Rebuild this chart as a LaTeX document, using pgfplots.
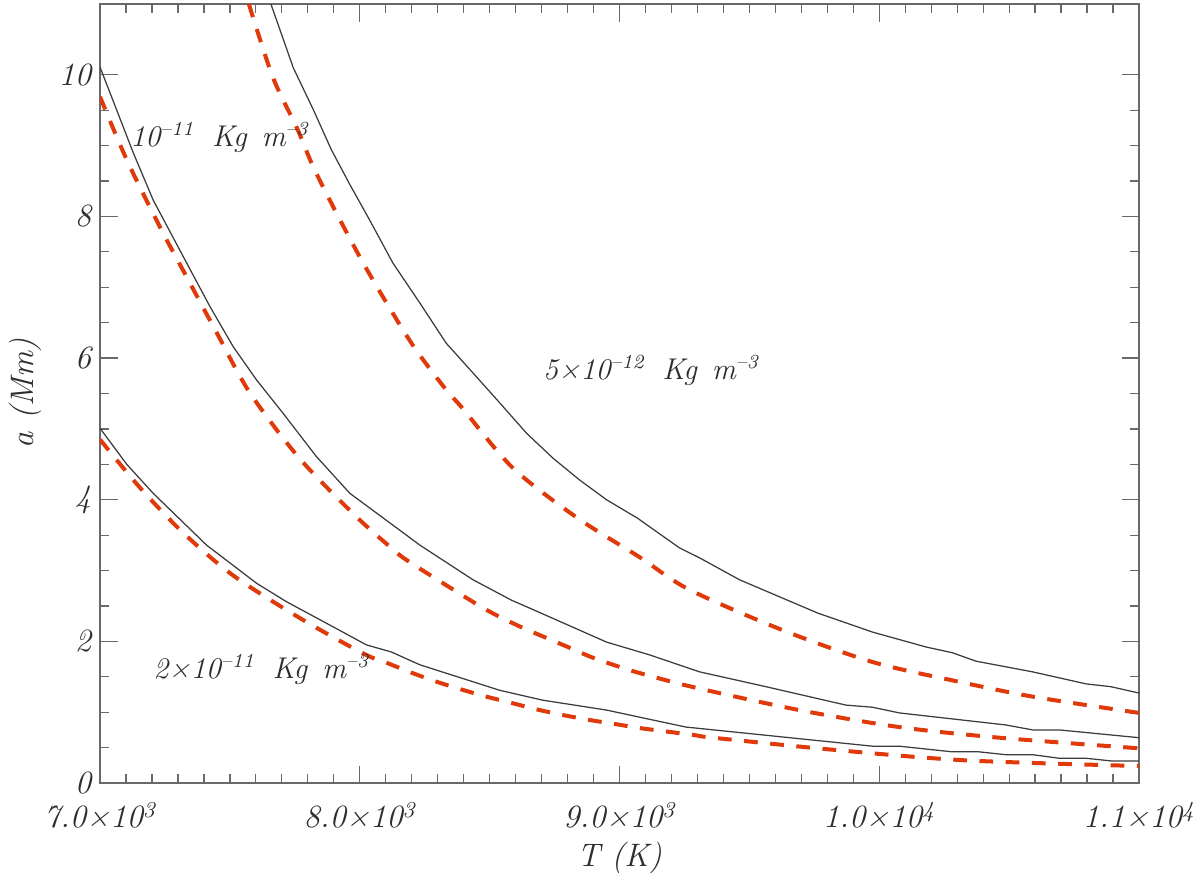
\documentclass[border=0pt]{standalone}
\usepackage{fontspec}
\usepackage{pgfplots}
\pgfplotsset{compat=1.18}
\definecolor{dashred}{RGB}{224,58,10}
\definecolor{axgray}{RGB}{105,105,105}
\definecolor{txtgray}{RGB}{45,45,45}
\definecolor{curvegray}{RGB}{60,60,60}
\newcommand{\lab}{\fontsize{13}{15}\selectfont\itshape}
\newcommand{\annot}{\fontsize{12}{14}\selectfont\itshape}
\begin{document}
\begin{tikzpicture}
\begin{axis}[
  scale only axis, width=415.6pt, height=311.6pt,
  xmin=7000, xmax=11000, ymin=0, ymax=11,
  xtick={7000,8000,9000,10000,11000},
  xticklabels={7.0×10\textsuperscript{3},8.0×10\textsuperscript{3},9.0×10\textsuperscript{3},1.0×10\textsuperscript{4},1.1×10\textsuperscript{4}},
  minor x tick num=9,
  ytick={0,2,4,6,8,10}, yticklabels={0,2,4,6,8,10},
  minor y tick num=3,
  tick align=inside,
  major tick length=7pt, minor tick length=3.5pt,
  axis line style={axgray, line width=0.6pt},
  every tick/.style={axgray, line width=0.5pt},
  ticklabel style={font=\lab, text=txtgray},
  xticklabel style={yshift=-4pt},
  xlabel={T (K)}, ylabel={a\hspace{5pt}(Mm)},
  label style={font=\lab, text=txtgray},
  xlabel style={at={(axis description cs:0.5,0)}, anchor=north, yshift=-20pt},
  scaled x ticks=false,
  clip=true,
]
% solid curves
\addplot[curvegray, line width=0.5pt] coordinates {
(7658,11.0) (7744,10.1) (7821,9.51) (7891,8.94) (7962,8.45) (8038,7.95) (8128,7.34) (8231,6.78) (8333,6.21) (8436,5.79) (8519,5.45) (8642,4.94) (8743,4.59) (8846,4.28) (8950,4.00) (9069,3.74) (9231,3.32) (9308,3.18) (9462,2.87) (9763,2.40) (9975,2.13) (10181,1.92) (10281,1.84) (10373,1.72) (10590,1.57) (10796,1.40) (10892,1.36) (11000,1.27)};
\addplot[curvegray, line width=0.5pt] coordinates {
(7000,10.11) (7128,8.90) (7205,8.23) (7321,7.43) (7423,6.73) (7513,6.16) (7603,5.69) (7705,5.22) (7833,4.61) (7962,4.09) (8154,3.57) (8231,3.36) (8436,2.87) (8585,2.58) (8654,2.47) (8950,1.99) (9115,1.81) (9308,1.57) (9564,1.36) (9872,1.10) (9974,1.07) (10077,0.99) (10487,0.82) (10590,0.75) (10692,0.75) (11000,0.64)};
\addplot[curvegray, line width=0.5pt] coordinates {
(7000,5.01) (7103,4.50) (7205,4.09) (7410,3.36) (7603,2.82) (7718,2.56) (7885,2.23) (8026,1.95) (8122,1.85) (8231,1.67) (8538,1.31) (8704,1.17) (8950,1.03) (9115,0.90) (9256,0.79) (9974,0.52) (10077,0.52) (10282,0.44) (10385,0.44) (10487,0.40) (10590,0.40) (10692,0.35) (10795,0.35) (10897,0.31) (11000,0.31)};
% dashed curves
\addplot[dashred, line width=1.6pt, dash pattern=on 5.5pt off 5pt, smooth] coordinates {
(7573,11.0) (7665,9.97) (7758,9.25) (7821,8.70) (7910,8.05) (8006,7.39) (8103,6.78) (8212,6.14) (8333,5.55) (8396,5.29) (8589,4.45) (8835,3.75) (9077,3.19) (9269,2.73) (9627,2.16) (9973,1.71) (10281,1.45) (10590,1.22) (11000,0.99)};
\addplot[dashred, line width=1.6pt, dash pattern=on 5.5pt off 5pt, smooth] coordinates {
(7000,9.69) (7103,8.80) (7231,7.85) (7333,7.15) (7449,6.36) (7577,5.51) (7769,4.58) (7987,3.76) (8128,3.30) (8192,3.12) (8435,2.56) (8526,2.37) (8628,2.19) (8718,2.05) (8808,1.91) (8897,1.77) (9000,1.64) (9090,1.54) (9300,1.34) (9692,1.03) (10077,0.79) (10462,0.64) (11000,0.49)};
\addplot[dashred, line width=1.6pt, dash pattern=on 5.5pt off 5pt, smooth] coordinates {
(7000,4.85) (7154,4.17) (7321,3.53) (7513,2.93) (7769,2.33) (8013,1.83) (8109,1.69) (8205,1.55) (8296,1.43) (8392,1.32) (8487,1.22) (8585,1.13) (8681,1.04) (8782,0.96) (8885,0.89) (8988,0.83) (9090,0.77) (9282,0.68) (9359,0.64) (9821,0.47) (10333,0.32) (11000,0.24)};
% annotations
\node[anchor=west, inner sep=0pt, text=txtgray, font=\annot] at (axis cs:7115,9.11) {10\textsuperscript{–11}\hspace{7pt}Kg\hspace{6pt}m\textsuperscript{–3}};
\node[anchor=west, inner sep=0pt, text=txtgray, font=\annot] at (axis cs:8704,5.83) {5×10\textsuperscript{–12}\hspace{7pt}Kg\hspace{6pt}m\textsuperscript{–3}};
\node[anchor=west, inner sep=0pt, text=txtgray, font=\annot] at (axis cs:7204,1.60) {2×10\textsuperscript{–11}\hspace{7pt}Kg\hspace{6pt}m\textsuperscript{–3}};
\end{axis}
\pgfresetboundingbox
\path[use as bounding box] ([shift={(-40pt,-35.6pt)}]current axis.south west) rectangle ([shift={(24.4pt,1.6pt)}]current axis.north east);
\end{tikzpicture}
\end{document}
